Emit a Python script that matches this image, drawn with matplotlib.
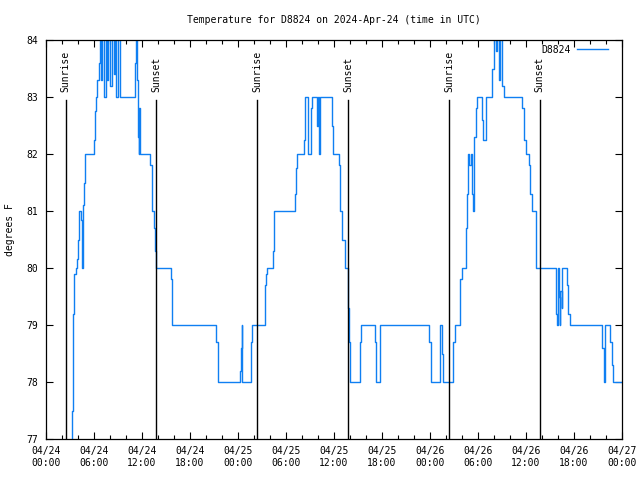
import datetime as dt
import matplotlib
matplotlib.use('Agg')
import matplotlib.pyplot as plt
import matplotlib.dates as mdates

# Relevés (heures depuis 2024-04-24 00:00 UTC, degrés F)
hours = [0.0, 3.2, 3.33, 3.42, 3.54, 3.71, 3.83, 3.96, 4.08, 4.17, 4.33, 4.45, 4.58,
         4.67, 4.79, 4.92, 6.0, 6.13, 6.25, 6.42, 6.6, 6.75, 6.85, 6.95, 7.05, 7.2,
         7.45, 7.6, 7.75, 7.95, 8.3, 8.45, 8.6, 8.8, 9.0, 9.25, 11.13, 11.25, 11.33,
         11.45, 11.55, 11.62, 11.68, 11.75, 13.0, 13.2, 13.45, 13.6, 13.75, 15.6,
         15.7, 15.8, 21.3, 21.5, 24.25, 24.35, 24.45, 24.55, 25.6, 25.8, 27.4, 27.5,
         27.6, 28.4, 28.55, 31.1, 31.3, 31.4, 32.2, 32.4, 32.7, 33.1, 33.3, 33.9,
         34.0, 34.1, 34.2, 35.7, 35.9, 36.6, 36.75, 36.96, 37.4, 37.78, 37.9, 38.05,
         39.2, 39.4, 41.1, 41.3, 41.7, 41.8, 47.9, 48.1, 49.2, 49.3, 49.5, 49.65,
         50.9, 51.1, 51.7, 51.8, 51.96, 52.5, 52.6, 52.75, 52.9, 53.1, 53.2, 53.35,
         53.45, 53.5, 53.7, 53.9, 54.55, 54.65, 54.95, 55.7, 55.8, 56.0, 56.3, 56.4,
         56.6, 56.75, 56.96, 57.2, 59.5, 59.7, 60.0, 60.4, 60.5, 60.7, 61.25, 61.3,
         63.7, 63.8, 63.9, 64.0, 64.1, 64.2, 64.3, 64.45, 64.55, 65.1, 65.3, 65.45,
         69.5, 69.7, 69.8, 69.9, 70.5, 70.7, 70.9, 72.0]
temps = [76.5, 77.5, 78.5, 79.2, 79.9, 80.0, 80.15, 80.5, 80.85, 81.0, 80.85, 80.0, 81.0,
         81.1, 81.5, 82.0, 82.25, 82.75, 83.0, 83.3, 83.6, 84.5, 83.3, 83.6, 84.5, 83.0,
         84.5, 83.3, 84.5, 83.2, 84.5, 83.4, 84.5, 83.0, 84.5, 83.0, 83.6, 84.5, 83.3,
         82.8, 82.3, 82.0, 82.8, 82.0, 81.8, 81.0, 80.7, 80.3, 80.0, 79.8,
         79.5, 79.0, 78.7, 78.0, 78.2, 78.6, 79.0, 78.0, 78.7, 79.0, 79.7, 79.9,
         80.0, 80.3, 81.0, 81.3, 81.75, 82.0, 82.25, 83.0, 82.0, 82.8, 83.0, 82.5,
         83.0, 82.0, 83.0, 82.5, 82.0, 81.8, 81.0, 80.5, 80.0, 79.3, 78.7, 78.0,
         78.7, 79.0, 78.7, 78.0, 78.7, 79.0, 78.7, 78.0, 78.7, 79.0, 78.5, 78.0,
         78.7, 79.0, 79.3, 79.8, 80.0, 80.7, 81.3, 82.0, 81.8, 82.0, 81.3, 81.0,
         81.8, 82.3, 82.8, 83.0, 82.6, 82.25, 83.0, 83.2, 83.5, 84.5, 83.8, 84.5,
         83.3, 84.5, 83.2, 83.0, 82.8, 82.25, 82.0, 81.8, 81.3, 81.0, 80.5, 80.0,
         79.7, 79.2, 79.0, 80.0, 79.5, 79.0, 79.6, 79.3, 80.0, 79.7, 79.2, 79.0,
         78.6, 78.2, 78.0, 79.0, 78.7, 78.3, 78.0, 78.0]

sunrise_hours = [2.45, 26.43, 50.42]
sunset_hours = [13.8, 37.78, 61.72]
yticks = [77, 78, 79, 80, 81, 82, 83, 84]

start = dt.datetime(2024, 4, 24)
times = [start + dt.timedelta(hours=h) for h in hours]

font = 'DejaVu Sans Mono'
plt.rcParams['font.family'] = font
plt.rcParams['font.size'] = 7

fig = plt.figure(figsize=(6.4, 4.8), dpi=100)
ax = fig.add_axes([46 / 640, 1 - 439 / 480, 576 / 640, 399 / 480])

ax.step(times, temps, where='post', color='#0f7ff2', lw=1.0, label='D8824')

# Lignes lever / coucher du soleil
for h in sunrise_hours:
    t = start + dt.timedelta(hours=h)
    ax.plot([t, t], [77, 82.95], color='black', lw=1.0)
    ax.text(t, 83.08, 'Sunrise', rotation=90, ha='center', va='bottom', fontsize=7)
for h in sunset_hours:
    t = start + dt.timedelta(hours=h)
    ax.plot([t, t], [77, 82.95], color='black', lw=1.0)
    ax.text(t, 83.08, 'Sunset', rotation=90, ha='center', va='bottom', fontsize=7)

ax.set_xlim(start, start + dt.timedelta(hours=72))
ax.set_ylim(77, 84)
ax.set_yticks(yticks)
ax.xaxis.set_major_locator(mdates.HourLocator(byhour=[0, 6, 12, 18]))
ax.xaxis.set_minor_locator(mdates.HourLocator(interval=2))
ax.xaxis.set_major_formatter(mdates.DateFormatter('%m/%d\n%H:%M'))
ax.tick_params(which='both', direction='in', top=True, right=True, width=0.8)
ax.tick_params(which='major', length=5, pad=5)
ax.tick_params(which='minor', length=3)
ax.tick_params(axis='y', pad=6)
for s in ax.spines.values():
    s.set_linewidth(0.9)

fig.text(334 / 640, 1 - 20 / 480, 'Temperature for D8824 on 2024-Apr-24 (time in UTC)',
         ha='center', va='center', fontsize=7)
fig.text(10 / 640, 1 - 230 / 480, 'degrees F', rotation=90, ha='center', va='center',
         fontsize=7)

ax.legend(loc='upper right', bbox_to_anchor=(1 - 8 / 576, 1 + 1 / 399), frameon=False,
          markerfirst=False, handlelength=3.2, borderaxespad=0.2, borderpad=0.4,
          handletextpad=0.6)

plt.savefig('out.png', dpi=100)
